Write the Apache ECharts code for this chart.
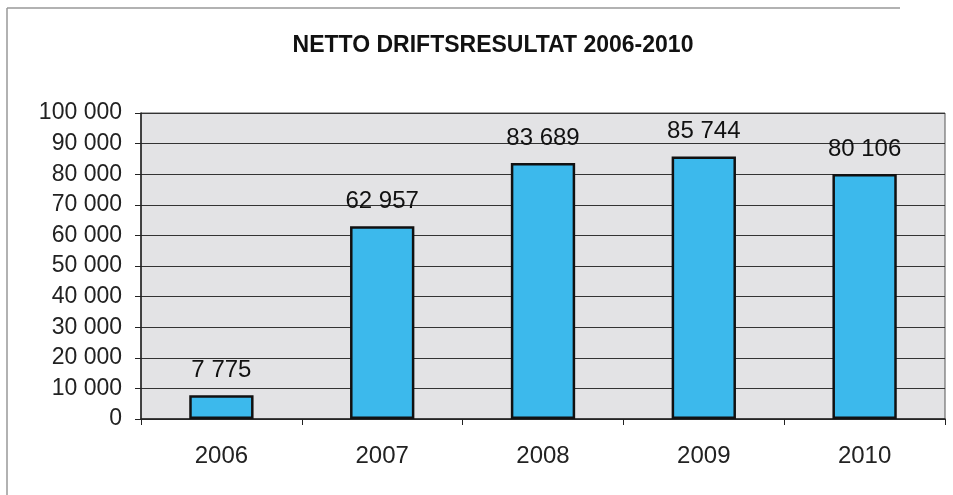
<!DOCTYPE html>
<html><head><meta charset="utf-8">
<script src="https://cdn.jsdelivr.net/npm/echarts@6/dist/echarts.min.js"></script>
<style>html,body{margin:0;padding:0;background:#fff}#c{width:953px;height:495px}</style>
</head><body><div id="c"></div>
<script>
const categories = ['2006','2007','2008','2009','2010'];
const values = [7775, 62957, 83689, 85744, 80106];
const title = 'NETTO DRIFTSRESULTAT 2006-2010';
function fmt(v){return String(v).replace(/\B(?=(\d{3})+(?!\d))/g,' ');}
const chart = echarts.init(document.getElementById('c'));
chart.setOption({
  animation:false,
  title:{text:title,left:488,top:29,textAlign:'center',textStyle:{fontFamily:'Liberation Sans',fontWeight:'bold',fontSize:23,color:'#111'}},
  grid:{left:141,right:8,top:113,bottom:76,show:true,backgroundColor:'#e3e3e5',borderColor:'#555',borderWidth:1},
  xAxis:{type:'category',data:categories,
    axisLine:{lineStyle:{color:'#222',width:1.5}},
    axisTick:{show:true,length:6,lineStyle:{color:'#222'}},
    axisLabel:{fontFamily:'Liberation Sans',fontSize:24,color:'#222',margin:25}},
  yAxis:{type:'value',min:0,max:100000,interval:10000,
    axisLine:{show:true,lineStyle:{color:'#222',width:1.5}},
    axisTick:{show:true,length:6,inside:false,lineStyle:{color:'#222'}},
    splitLine:{lineStyle:{color:'#333',width:1.2}},
    axisLabel:{fontFamily:'Liberation Sans',fontSize:23,color:'#222',margin:19,formatter:fmt}},
  series:[{type:'bar',data:values,barWidth:'40%',
    itemStyle:{color:'#3cb9ec',borderColor:'#111',borderWidth:2.5},
    label:{show:true,position:'top',distance:13,fontFamily:'Liberation Sans',fontSize:24,color:'#111',formatter:p=>fmt(p.value)}}],
  graphic:[
    {type:'line',shape:{x1:7,y1:8,x2:900,y2:8},style:{stroke:'#999',lineWidth:1.5},silent:true},
    {type:'line',shape:{x1:7,y1:8,x2:7,y2:495},style:{stroke:'#999',lineWidth:1.5},silent:true}
  ]
});
</script></body></html>
